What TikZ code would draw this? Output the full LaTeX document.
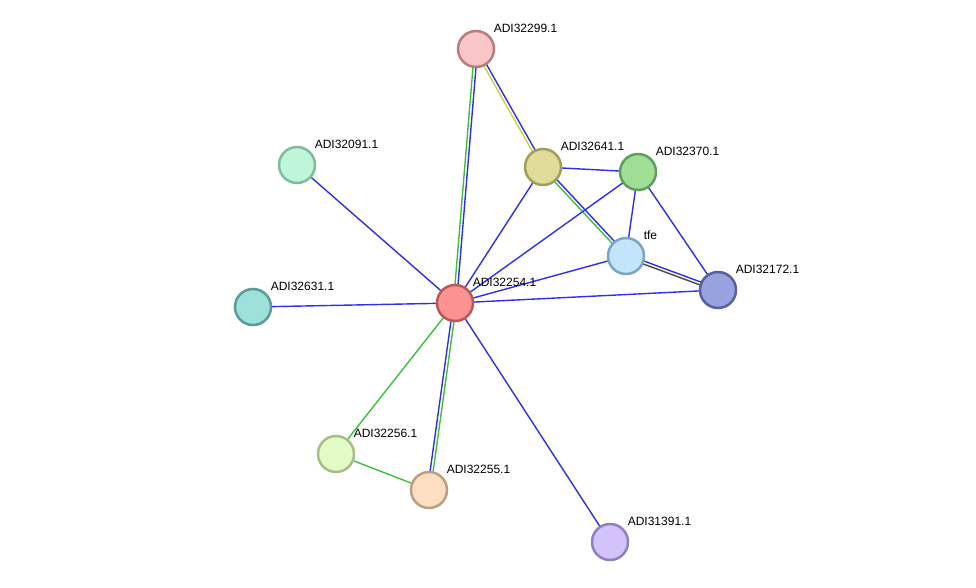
\documentclass[tikz,border=0pt]{standalone}
\usepackage{fontspec}
\setmainfont{Liberation Sans}
\usetikzlibrary{calc,backgrounds}

\definecolor{linkblue}{HTML}{2E2EF2}
\definecolor{linkgreen}{HTML}{3CC03C}
\definecolor{linkyellow}{HTML}{C8D23A}
\definecolor{linkgray}{HTML}{4A4A4A}

% two parallel lines between nodes: #3 on the right of #1->#2, #4 on the left
\newcommand{\pairlink}[4]{%
  \draw[link,#3] ($(#1.center)!1.5pt!90:(#2.center)$) -- ($(#2.center)!1.5pt!-90:(#1.center)$);
  \draw[link,#4] ($(#1.center)!1.5pt!-90:(#2.center)$) -- ($(#2.center)!1.5pt!90:(#1.center)$);}

\begin{document}
\begin{tikzpicture}[x=1pt,y=-1pt,
    prot/.style={circle,draw,line width=2.5pt,minimum size=36pt,inner sep=0pt},
    lbl/.style={font=\fontsize{12}{14}\selectfont,inner sep=0pt,text=black,xshift=4pt,yshift=3pt},
    link/.style={line width=1.4pt}]
  \useasboundingbox (0,0) rectangle (976,588);

  \node[prot,fill={rgb,255:red,248;green,198;blue,198},draw={rgb,255:red,184;green,124;blue,124},
        label={[lbl]above right:ADI32299.1}] (p299) at (476,49) {};
  \node[prot,fill={rgb,255:red,191;green,245;blue,216},draw={rgb,255:red,126;green,190;blue,156},
        label={[lbl]above right:ADI32091.1}] (p091) at (297,165) {};
  \node[prot,fill={rgb,255:red,222;green,220;blue,152},draw={rgb,255:red,160;green,158;blue,90},
        label={[lbl]above right:ADI32641.1}] (p641) at (543,167) {};
  \node[prot,fill={rgb,255:red,158;green,223;blue,149},draw={rgb,255:red,96;green,158;blue,92},
        label={[lbl]above right:ADI32370.1}] (p370) at (638,172) {};
  \node[prot,fill={rgb,255:red,193;green,229;blue,249},draw={rgb,255:red,124;green,164;blue,196},
        label={[lbl]above right:tfe}] (tfe) at (626,256) {};
  \node[prot,fill={rgb,255:red,152;green,162;blue,222},draw={rgb,255:red,88;green,96;blue,160},
        label={[lbl]above right:ADI32172.1}] (p172) at (718,290) {};
  \node[prot,fill={rgb,255:red,158;green,224;blue,218},draw={rgb,255:red,88;green,156;blue,152},
        label={[lbl]above right:ADI32631.1}] (p631) at (253,307) {};
  \node[prot,fill={rgb,255:red,252;green,147;blue,147},draw={rgb,255:red,190;green,88;blue,88},
        label={[lbl]above right:ADI32254.1}] (p254) at (455,303) {};
  \node[prot,fill={rgb,255:red,227;green,251;blue,196},draw={rgb,255:red,168;green,190;blue,136},
        label={[lbl]above right:ADI32256.1}] (p256) at (336,454) {};
  \node[prot,fill={rgb,255:red,253;green,222;blue,194},draw={rgb,255:red,190;green,158;blue,128},
        label={[lbl]above right:ADI32255.1}] (p255) at (429,490) {};
  \node[prot,fill={rgb,255:red,211;green,195;blue,250},draw={rgb,255:red,144;green,128;blue,192},
        label={[lbl]above right:ADI31391.1}] (p391) at (610,542) {};

  \begin{scope}[on background layer]
    \pairlink{p299}{p254}{linkblue}{linkgreen}
    \pairlink{p299}{p641}{linkblue}{linkyellow}
    \pairlink{p641}{tfe}{linkblue}{linkgreen}
    \pairlink{tfe}{p172}{linkblue}{linkgray}
    \pairlink{p254}{p255}{linkgreen}{linkblue}
    \path[link,draw=linkblue]
      (p091.center) edge (p254.center)
      (p631.center) edge (p254.center)
      (p641.center) edge (p254.center)
      (p641.center) edge (p370.center)
      (p370.center) edge (p254.center)
      (p370.center) edge (tfe.center)
      (p370.center) edge (p172.center)
      (tfe.center) edge (p254.center)
      (p172.center) edge (p254.center)
      (p254.center) edge (p391.center);
    \path[link,draw=linkgreen]
      (p254.center) edge (p256.center)
      (p256.center) edge (p255.center);
  \end{scope}
\end{tikzpicture}
\end{document}
